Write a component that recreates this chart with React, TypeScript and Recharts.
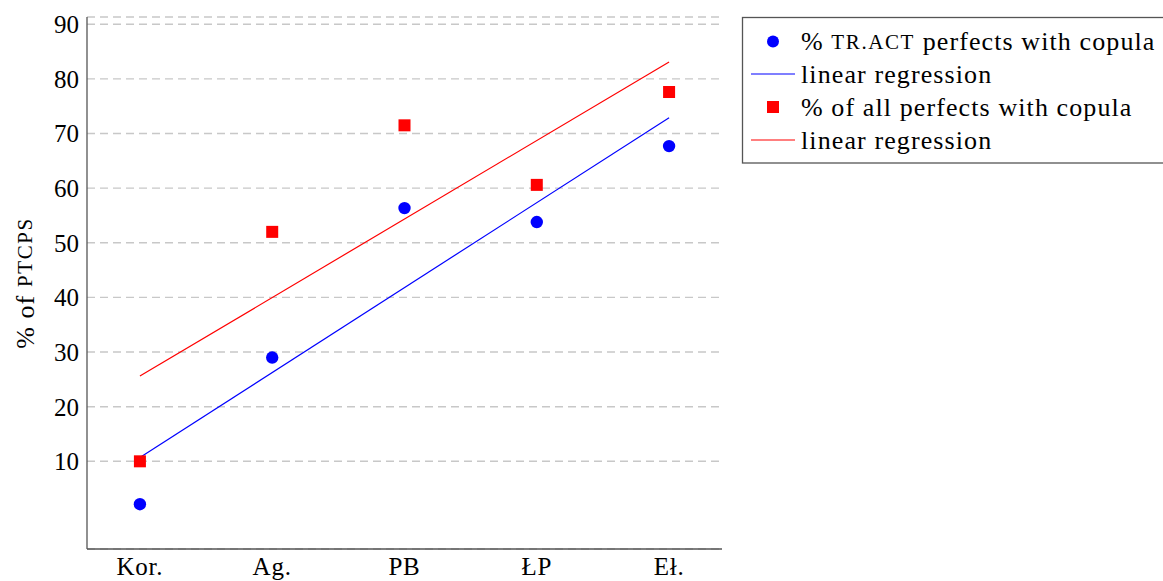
import React from 'react';
import { ComposedChart, Scatter, XAxis, YAxis, CartesianGrid } from 'recharts';

const categories = ['Kor.', 'Ag.', 'PB', 'ŁP', 'Eł.'];
const trActPct = [2.15, 29.0, 56.35, 53.8, 67.7];
const allPerfPct = [10.0, 52.0, 71.5, 60.6, 77.6];
const trActRegEnds = [10.7, 72.9];
const allPerfRegEnds = [25.6, 83.1];
const yTicks = [10, 20, 30, 40, 50, 60, 70, 80, 90];
const xTicks = [0, 1, 2, 3, 4];

const FONT = "'Liberation Serif', 'DejaVu Serif', serif";
const BLUE = '#0000ff';
const RED = '#ff0000';
const X_DOMAIN: [number, number] = [-0.4, 4.4];
const Y_DOMAIN: [number, number] = [-6.05, 91.33];

const blueData = trActPct.map((v, i) => ({ x: i, y: v }));
const redData = allPerfPct.map((v, i) => ({ x: i, y: v }));
const blueReg = [
  { x: 0, y: trActRegEnds[0] },
  { x: categories.length - 1, y: trActRegEnds[1] },
];
const redReg = [
  { x: 0, y: allPerfRegEnds[0] },
  { x: categories.length - 1, y: allPerfRegEnds[1] },
];

const Circle = (p: any) => <circle cx={p.cx} cy={p.cy} r={6.2} fill={BLUE} />;
const Square = (p: any) => (
  <rect x={p.cx - 6} y={p.cy - 6} width={12} height={12} fill={RED} />
);
const Nothing = () => <g />;

const textStyle: React.CSSProperties = {
  fontFamily: FONT,
  fontSize: 26,
  letterSpacing: 1.1,
  fill: '#000',
};
const scStyle: React.CSSProperties = { fontSize: 21, letterSpacing: 1.6 };

const YLabel = (props: any) => {
  const vb = props.viewBox || { x: 0, y: 17, width: 87, height: 532 };
  const cx = 25;
  const cy = vb.y + vb.height / 2;
  return (
    <text
      x={cx}
      y={cy}
      transform={`rotate(-90 ${cx} ${cy})`}
      textAnchor="middle"
      dominantBaseline="central"
      style={textStyle}
    >
      % of <tspan style={scStyle}>PTCPS</tspan>
    </text>
  );
};

const LegendBox = () => {
  const rows = [41.5, 74, 107, 140];
  const textX = 801;
  return (
    <svg
      width={1163}
      height={581}
      style={{ position: 'absolute', left: 0, top: 0, pointerEvents: 'none' }}
    >
      <rect x={742.5} y={17.5} width={440} height={145.5} fill="#fff" stroke="#555" strokeWidth={1.3} />
      <circle cx={773} cy={rows[0]} r={6} fill={BLUE} />
      <text x={textX} y={rows[0]} dominantBaseline="central" style={textStyle}>
        % <tspan style={scStyle}>TR.ACT</tspan> perfects with copula
      </text>
      <line x1={751} x2={795} y1={rows[1]} y2={rows[1]} stroke={BLUE} strokeWidth={1.2} />
      <text x={textX} y={rows[1]} dominantBaseline="central" style={textStyle}>linear regression</text>
      <rect x={767} y={rows[2] - 6} width={12} height={12} fill={RED} />
      <text x={textX} y={rows[2]} dominantBaseline="central" style={textStyle}>% of all perfects with copula</text>
      <line x1={751} x2={795} y1={rows[3]} y2={rows[3]} stroke={RED} strokeWidth={1.2} />
      <text x={textX} y={rows[3]} dominantBaseline="central" style={textStyle}>linear regression</text>
    </svg>
  );
};

const empty = () => '';
const innerTick = { stroke: '#b8b8b8', strokeWidth: 1.3 };

export default function App() {
  const tickStyle = { fontFamily: FONT, fontSize: 25, fill: '#000' };
  return (
    <div style={{ position: 'absolute', left: 0, top: 0, width: 1163, height: 581, background: '#fff', fontFamily: FONT }}>
      <ComposedChart
        width={1163}
        height={581}
        margin={{ top: 17, right: 441, bottom: 0, left: 0 }}
      >
        <CartesianGrid
          vertical={false}
          stroke="#c8c8c8"
          strokeWidth={1.4}
          strokeDasharray="8 5"
          yAxisId="left"
          xAxisId="bottom"
        />
        <XAxis
          xAxisId="bottomIn"
          orientation="bottom"
          mirror
          type="number"
          dataKey="x"
          domain={X_DOMAIN}
          allowDataOverflow
          ticks={xTicks}
          interval={0}
          height={0}
          tickSize={8}
          tickFormatter={empty}
          tickLine={innerTick}
          axisLine={false}
        />
        <YAxis
          yAxisId="leftIn"
          orientation="left"
          mirror
          type="number"
          domain={Y_DOMAIN}
          allowDataOverflow
          ticks={yTicks}
          interval={0}
          width={0}
          tickSize={8}
          tickFormatter={empty}
          tickLine={innerTick}
          axisLine={false}
        />
        <XAxis
          xAxisId="bottom"
          type="number"
          dataKey="x"
          domain={X_DOMAIN}
          allowDataOverflow
          ticks={xTicks}
          tickFormatter={(v: number) => categories[v] ?? ''}
          height={32}
          tickSize={0}
          tickMargin={8}
          tick={{ ...tickStyle, letterSpacing: 0.8 }}
          axisLine={{ stroke: '#555', strokeWidth: 1.3 }}
          tickLine={false}
          interval={0}
        />
        <XAxis
          xAxisId="top"
          orientation="top"
          mirror
          type="number"
          dataKey="x"
          domain={X_DOMAIN}
          allowDataOverflow
          ticks={xTicks}
          interval={0}
          height={0}
          tickSize={8}
          tickFormatter={empty}
          tickLine={innerTick}
          axisLine={{ stroke: '#555', strokeWidth: 1.3 }}
        />
        <YAxis
          yAxisId="left"
          type="number"
          domain={Y_DOMAIN}
          allowDataOverflow
          ticks={yTicks}
          width={87}
          tickSize={0}
          tickMargin={8}
          tick={tickStyle}
          tickLine={false}
          axisLine={{ stroke: '#555', strokeWidth: 1.3 }}
          interval={0}
          label={<YLabel />}
        />
        <YAxis
          yAxisId="right"
          orientation="right"
          mirror
          type="number"
          domain={Y_DOMAIN}
          allowDataOverflow
          ticks={yTicks}
          interval={0}
          width={0}
          tickSize={8}
          tickFormatter={empty}
          tickLine={innerTick}
          axisLine={{ stroke: '#555', strokeWidth: 1.3 }}
        />
        <Scatter
          xAxisId="bottom"
          yAxisId="left"
          data={redReg}
          dataKey="y"
          line={{ stroke: RED, strokeWidth: 1.2 }}
          shape={Nothing}
          isAnimationActive={false}
        />
        <Scatter
          xAxisId="bottom"
          yAxisId="left"
          data={blueReg}
          dataKey="y"
          line={{ stroke: BLUE, strokeWidth: 1.2 }}
          shape={Nothing}
          isAnimationActive={false}
        />
        <Scatter
          xAxisId="bottom"
          yAxisId="left"
          data={blueData}
          dataKey="y"
          shape={Circle}
          isAnimationActive={false}
        />
        <Scatter
          xAxisId="bottom"
          yAxisId="left"
          data={redData}
          dataKey="y"
          shape={Square}
          isAnimationActive={false}
        />
      </ComposedChart>
      <LegendBox />
    </div>
  );
}
